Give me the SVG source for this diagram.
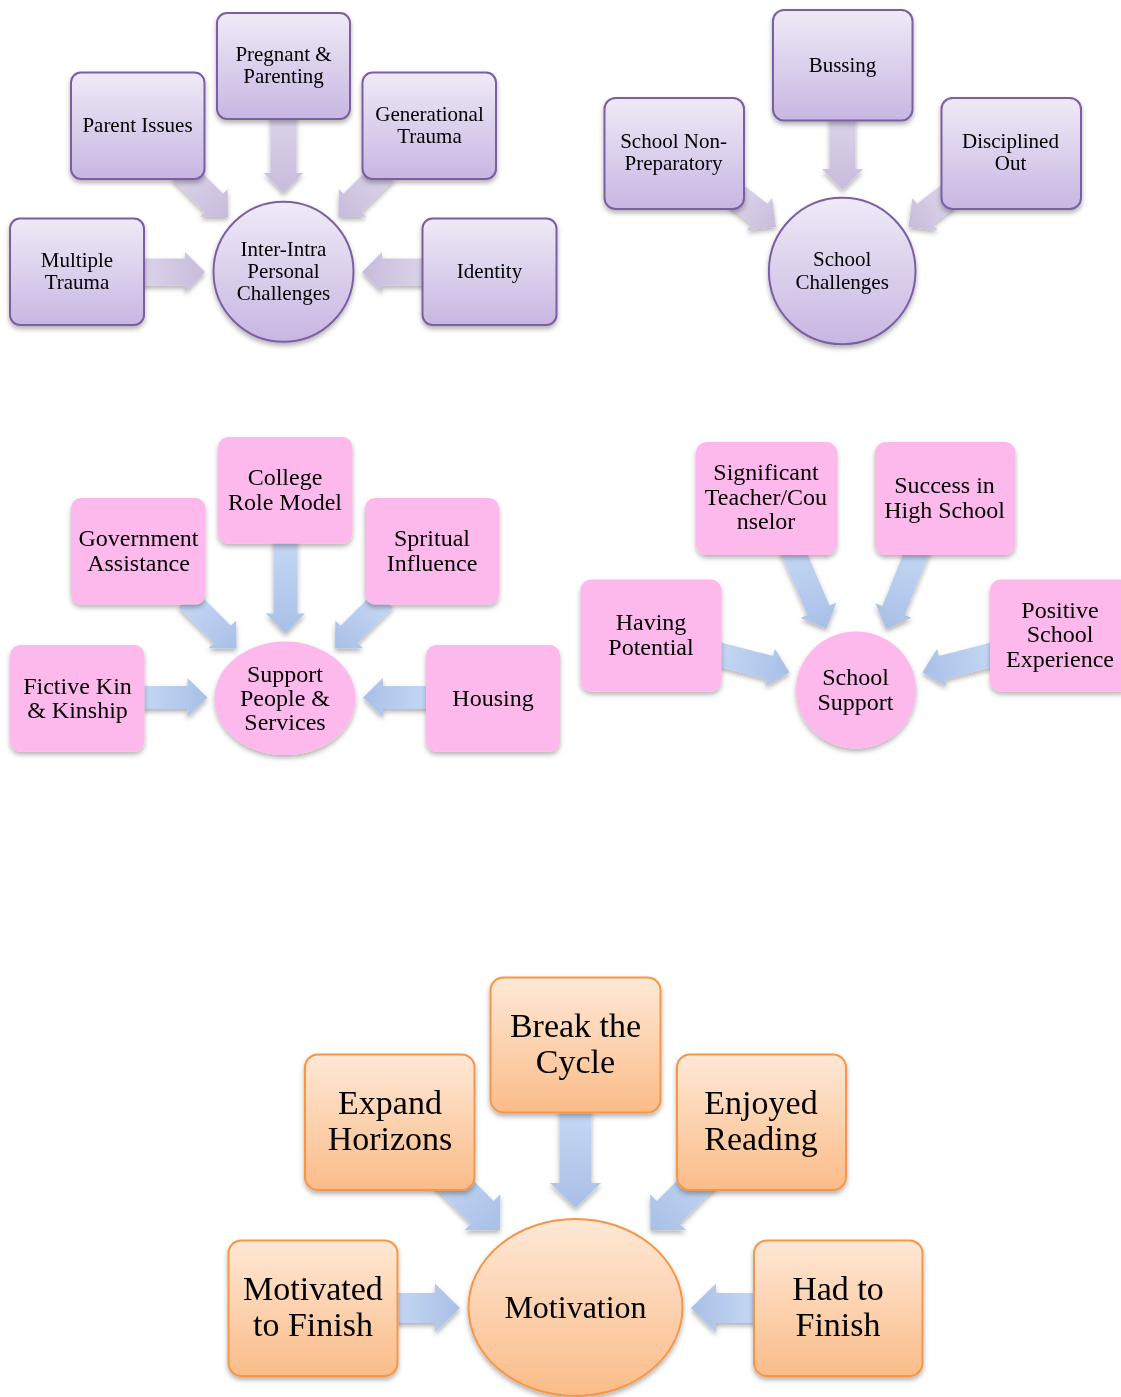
<svg xmlns="http://www.w3.org/2000/svg" width="1121" height="1397" viewBox="0 0 1121 1397">
<defs>
<linearGradient id="gp" x1="0" y1="0" x2="0" y2="1"><stop offset="0" stop-color="#efeaf7"/><stop offset="1" stop-color="#c8b6e2"/></linearGradient>
<linearGradient id="go" x1="0" y1="0" x2="0" y2="1"><stop offset="0" stop-color="#fee8d6"/><stop offset="1" stop-color="#fbbc88"/></linearGradient>
<linearGradient id="gap" x1="0" y1="0" x2="1" y2="0"><stop offset="0" stop-color="#dcd4ea"/><stop offset="1" stop-color="#c7bbdb"/></linearGradient>
<linearGradient id="gab" x1="0" y1="0" x2="1" y2="0"><stop offset="0" stop-color="#c5d8f5"/><stop offset="1" stop-color="#a9bfe6"/></linearGradient>
<filter id="sh" x="-20%" y="-20%" width="140%" height="150%"><feDropShadow dx="0" dy="3" stdDeviation="2.5" flood-color="#000" flood-opacity="0.3"/></filter>
<style>
.pb{fill:url(#gp);stroke:#7c5fa3;stroke-width:2;filter:url(#sh)}
.kb{fill:#fdb9ec;filter:url(#sh)}
.ob{fill:url(#go);stroke:#f79646;stroke-width:2;filter:url(#sh)}
.ap{fill:url(#gap)}
.ab{fill:url(#gab)}
text{font-family:'Liberation Serif','Times New Roman',serif;fill:#000;text-anchor:middle}
.s21{font-size:21px}
.s24{font-size:24px}
.s34{font-size:34px}
.s32{font-size:32px}
</style>
</defs>
<rect width="1121" height="1397" fill="#fff"/>
<g id="connectors" filter="url(#sh)">
<path class="ap" transform="translate(283.5,193) rotate(90)" d="M-80,-13H-20V-19.5L0,0L-20,19.5V13H-80Z"/>
<path class="ap" transform="translate(228,217) rotate(45)" d="M-66,-13H-20V-19.5L0,0L-20,19.5V13H-66Z"/>
<path class="ap" transform="translate(338.5,217) rotate(135)" d="M-66,-13H-20V-19.5L0,0L-20,19.5V13H-66Z"/>
<path class="ap" transform="translate(205,272)" d="M-64,-13.5H-20V-20L0,0L-20,20V13.5H-64Z"/>
<path class="ap" transform="translate(362,272) rotate(180)" d="M-64,-13.5H-20V-20L0,0L-20,20V13.5H-64Z"/>
<path class="ap" transform="translate(842.5,190) rotate(90)" d="M-75,-13H-21V-20.5L0,0L-21,20.5V13H-75Z"/>
<path class="ap" transform="translate(776,227) rotate(38)" d="M-50,-13H-21V-20.5L0,0L-21,20.5V13H-50Z"/>
<path class="ap" transform="translate(908.5,227) rotate(142)" d="M-50,-13H-21V-20.5L0,0L-21,20.5V13H-50Z"/>
<path class="ab" transform="translate(285.5,633.5) rotate(90)" d="M-95,-12H-20V-19.5L0,0L-20,19.5V12H-95Z"/>
<path class="ab" transform="translate(236.5,648.5) rotate(45)" d="M-70,-12H-20V-19.5L0,0L-20,19.5V12H-70Z"/>
<path class="ab" transform="translate(335,648.5) rotate(135)" d="M-70,-12H-20V-19.5L0,0L-20,19.5V12H-70Z"/>
<path class="ab" transform="translate(207.5,697.5)" d="M-66,-11.5H-20V-19.5L0,0L-20,19.5V11.5H-66Z"/>
<path class="ab" transform="translate(363,697.5) rotate(180)" d="M-66,-11.5H-20V-19.5L0,0L-20,19.5V11.5H-66Z"/>
<path class="ab" transform="translate(826.5,628.5) rotate(66.6)" d="M-90,-12H-20V-19.5L0,0L-20,19.5V12H-90Z"/>
<path class="ab" transform="translate(886,629) rotate(112)" d="M-90,-12H-20V-19.5L0,0L-20,19.5V12H-90Z"/>
<path class="ab" transform="translate(789.5,672.5) rotate(14.4)" d="M-75,-12H-20V-19.5L0,0L-20,19.5V12H-75Z"/>
<path class="ab" transform="translate(922.5,672.5) rotate(165.6)" d="M-75,-12H-20V-19.5L0,0L-20,19.5V12H-75Z"/>
<path class="ab" transform="translate(575.5,1208) rotate(90)" d="M-100,-16H-25V-25.5L0,0L-25,25.5V16H-100Z"/>
<path class="ab" transform="translate(500,1230) rotate(45)" d="M-90,-16H-25V-25.5L0,0L-25,25.5V16H-90Z"/>
<path class="ab" transform="translate(650.5,1230) rotate(135)" d="M-90,-16H-25V-25.5L0,0L-25,25.5V16H-90Z"/>
<path class="ab" transform="translate(460,1308)" d="M-66,-15H-25V-24.5L0,0L-25,24.5V15H-66Z"/>
<path class="ab" transform="translate(691,1308) rotate(180)" d="M-66,-15H-25V-24.5L0,0L-25,24.5V15H-66Z"/>
</g>
<g id="n-pregnant"><rect class="pb" x="217" y="13" width="133" height="106" rx="10"/><text class="s21"><tspan x="283.5" y="60.5">Pregnant &amp;</tspan><tspan x="283.5" y="83">Parenting</tspan></text></g>
<g id="n-parent"><rect class="pb" x="71" y="72.5" width="133.5" height="106.5" rx="10"/><text class="s21"><tspan x="137.5" y="132">Parent Issues</tspan></text></g>
<g id="n-generational"><rect class="pb" x="362.5" y="72.5" width="133.5" height="106.5" rx="10"/><text class="s21"><tspan x="429.5" y="121">Generational</tspan><tspan x="429.5" y="143">Trauma</tspan></text></g>
<g id="n-multiple"><rect class="pb" x="10" y="218.5" width="134" height="106.5" rx="10"/><text class="s21"><tspan x="77" y="266.5">Multiple</tspan><tspan x="77" y="289">Trauma</tspan></text></g>
<g id="n-identity"><rect class="pb" x="422.5" y="218.5" width="134" height="106.5" rx="10"/><text class="s21"><tspan x="489.5" y="278">Identity</tspan></text></g>
<g id="n-interintra"><circle class="pb" cx="283.5" cy="271.8" r="70"/><text class="s21"><tspan x="283.5" y="256">Inter-Intra</tspan><tspan x="283.5" y="278">Personal</tspan><tspan x="283.5" y="300">Challenges</tspan></text></g>
<g id="n-bussing"><rect class="pb" x="773" y="10" width="139.5" height="110.5" rx="11"/><text class="s21"><tspan x="842.5" y="72">Bussing</tspan></text></g>
<g id="n-nonprep"><rect class="pb" x="604.5" y="98" width="139.5" height="111" rx="11"/><text class="s21"><tspan x="673.5" y="148">School Non-</tspan><tspan x="673.5" y="170">Preparatory</tspan></text></g>
<g id="n-disciplined"><rect class="pb" x="941.5" y="98" width="139.5" height="111" rx="11"/><text class="s21"><tspan x="1010.5" y="148">Disciplined</tspan><tspan x="1010.5" y="170">Out</tspan></text></g>
<g id="n-schoolchallenges"><circle class="pb" cx="842.2" cy="271" r="73.3"/><text class="s21"><tspan x="842.2" y="266">School</tspan><tspan x="842.2" y="288.5">Challenges</tspan></text></g>
<g id="n-college"><rect class="kb" x="218" y="437" width="134.5" height="106.5" rx="10"/><text class="s24"><tspan x="285" y="485">College</tspan><tspan x="285" y="509.5">Role Model</tspan></text></g>
<g id="n-government"><rect class="kb" x="71" y="498" width="134.5" height="106.5" rx="10"/><text class="s24"><tspan x="138.5" y="546">Government</tspan><tspan x="138.5" y="571">Assistance</tspan></text></g>
<g id="n-spritual"><rect class="kb" x="365" y="498" width="134" height="106.5" rx="10"/><text class="s24"><tspan x="432" y="546">Spritual</tspan><tspan x="432" y="571">Influence</tspan></text></g>
<g id="n-fictive"><rect class="kb" x="10" y="645" width="134.5" height="106.5" rx="10"/><text class="s24"><tspan x="77.5" y="693.5">Fictive Kin</tspan><tspan x="77.5" y="717.5">&amp; Kinship</tspan></text></g>
<g id="n-housing"><rect class="kb" x="426" y="645" width="134" height="106.5" rx="10"/><text class="s24"><tspan x="493" y="706">Housing</tspan></text></g>
<g id="n-support"><ellipse class="kb" cx="285" cy="698.3" rx="70.5" ry="56.7"/><text class="s24"><tspan x="285" y="682">Support</tspan><tspan x="285" y="705.5">People &amp;</tspan><tspan x="285" y="729.5">Services</tspan></text></g>
<g id="n-significant"><rect class="kb" x="696" y="442" width="141" height="113" rx="11"/><text class="s24"><tspan x="766" y="480">Significant</tspan><tspan x="766" y="504.5">Teacher/Cou</tspan><tspan x="766" y="529">nselor</tspan></text></g>
<g id="n-success"><rect class="kb" x="875" y="442" width="140.5" height="113" rx="11"/><text class="s24"><tspan x="944.5" y="493">Success in</tspan><tspan x="944.5" y="517.5">High School</tspan></text></g>
<g id="n-having"><rect class="kb" x="580.5" y="579.5" width="141" height="112" rx="11"/><text class="s24"><tspan x="651" y="630">Having</tspan><tspan x="651" y="654.5">Potential</tspan></text></g>
<g id="n-positive"><rect class="kb" x="990" y="579.5" width="141" height="112" rx="11"/><text class="s24"><tspan x="1060" y="618">Positive</tspan><tspan x="1060" y="642">School</tspan><tspan x="1060" y="666.5">Experience</tspan></text></g>
<g id="n-schoolsupport"><ellipse class="kb" cx="856" cy="690" rx="60" ry="58.5"/><text class="s24"><tspan x="855.5" y="685">School</tspan><tspan x="855.5" y="709.5">Support</tspan></text></g>
<g id="n-break"><rect class="ob" x="490.5" y="977.5" width="170" height="135" rx="13"/><text class="s34"><tspan x="575.5" y="1037">Break the</tspan><tspan x="575.5" y="1073">Cycle</tspan></text></g>
<g id="n-expand"><rect class="ob" x="305" y="1054.5" width="169.5" height="135.5" rx="13"/><text class="s34"><tspan x="390" y="1114">Expand</tspan><tspan x="390" y="1150">Horizons</tspan></text></g>
<g id="n-enjoyed"><rect class="ob" x="677" y="1054.5" width="169" height="135.5" rx="13"/><text class="s34"><tspan x="761" y="1114">Enjoyed</tspan><tspan x="761" y="1150">Reading</tspan></text></g>
<g id="n-motivated"><rect class="ob" x="228.5" y="1240.5" width="169" height="135.5" rx="13"/><text class="s34"><tspan x="313" y="1299.5">Motivated</tspan><tspan x="313" y="1336">to Finish</tspan></text></g>
<g id="n-had"><rect class="ob" x="754" y="1240.5" width="168.5" height="135.5" rx="13"/><text class="s34"><tspan x="838" y="1299.5">Had to</tspan><tspan x="838" y="1336">Finish</tspan></text></g>
<g id="n-motivation"><ellipse class="ob" cx="575.5" cy="1307.5" rx="107" ry="88.5"/><text class="s32"><tspan x="575.5" y="1318">Motivation</tspan></text></g>
</svg>
